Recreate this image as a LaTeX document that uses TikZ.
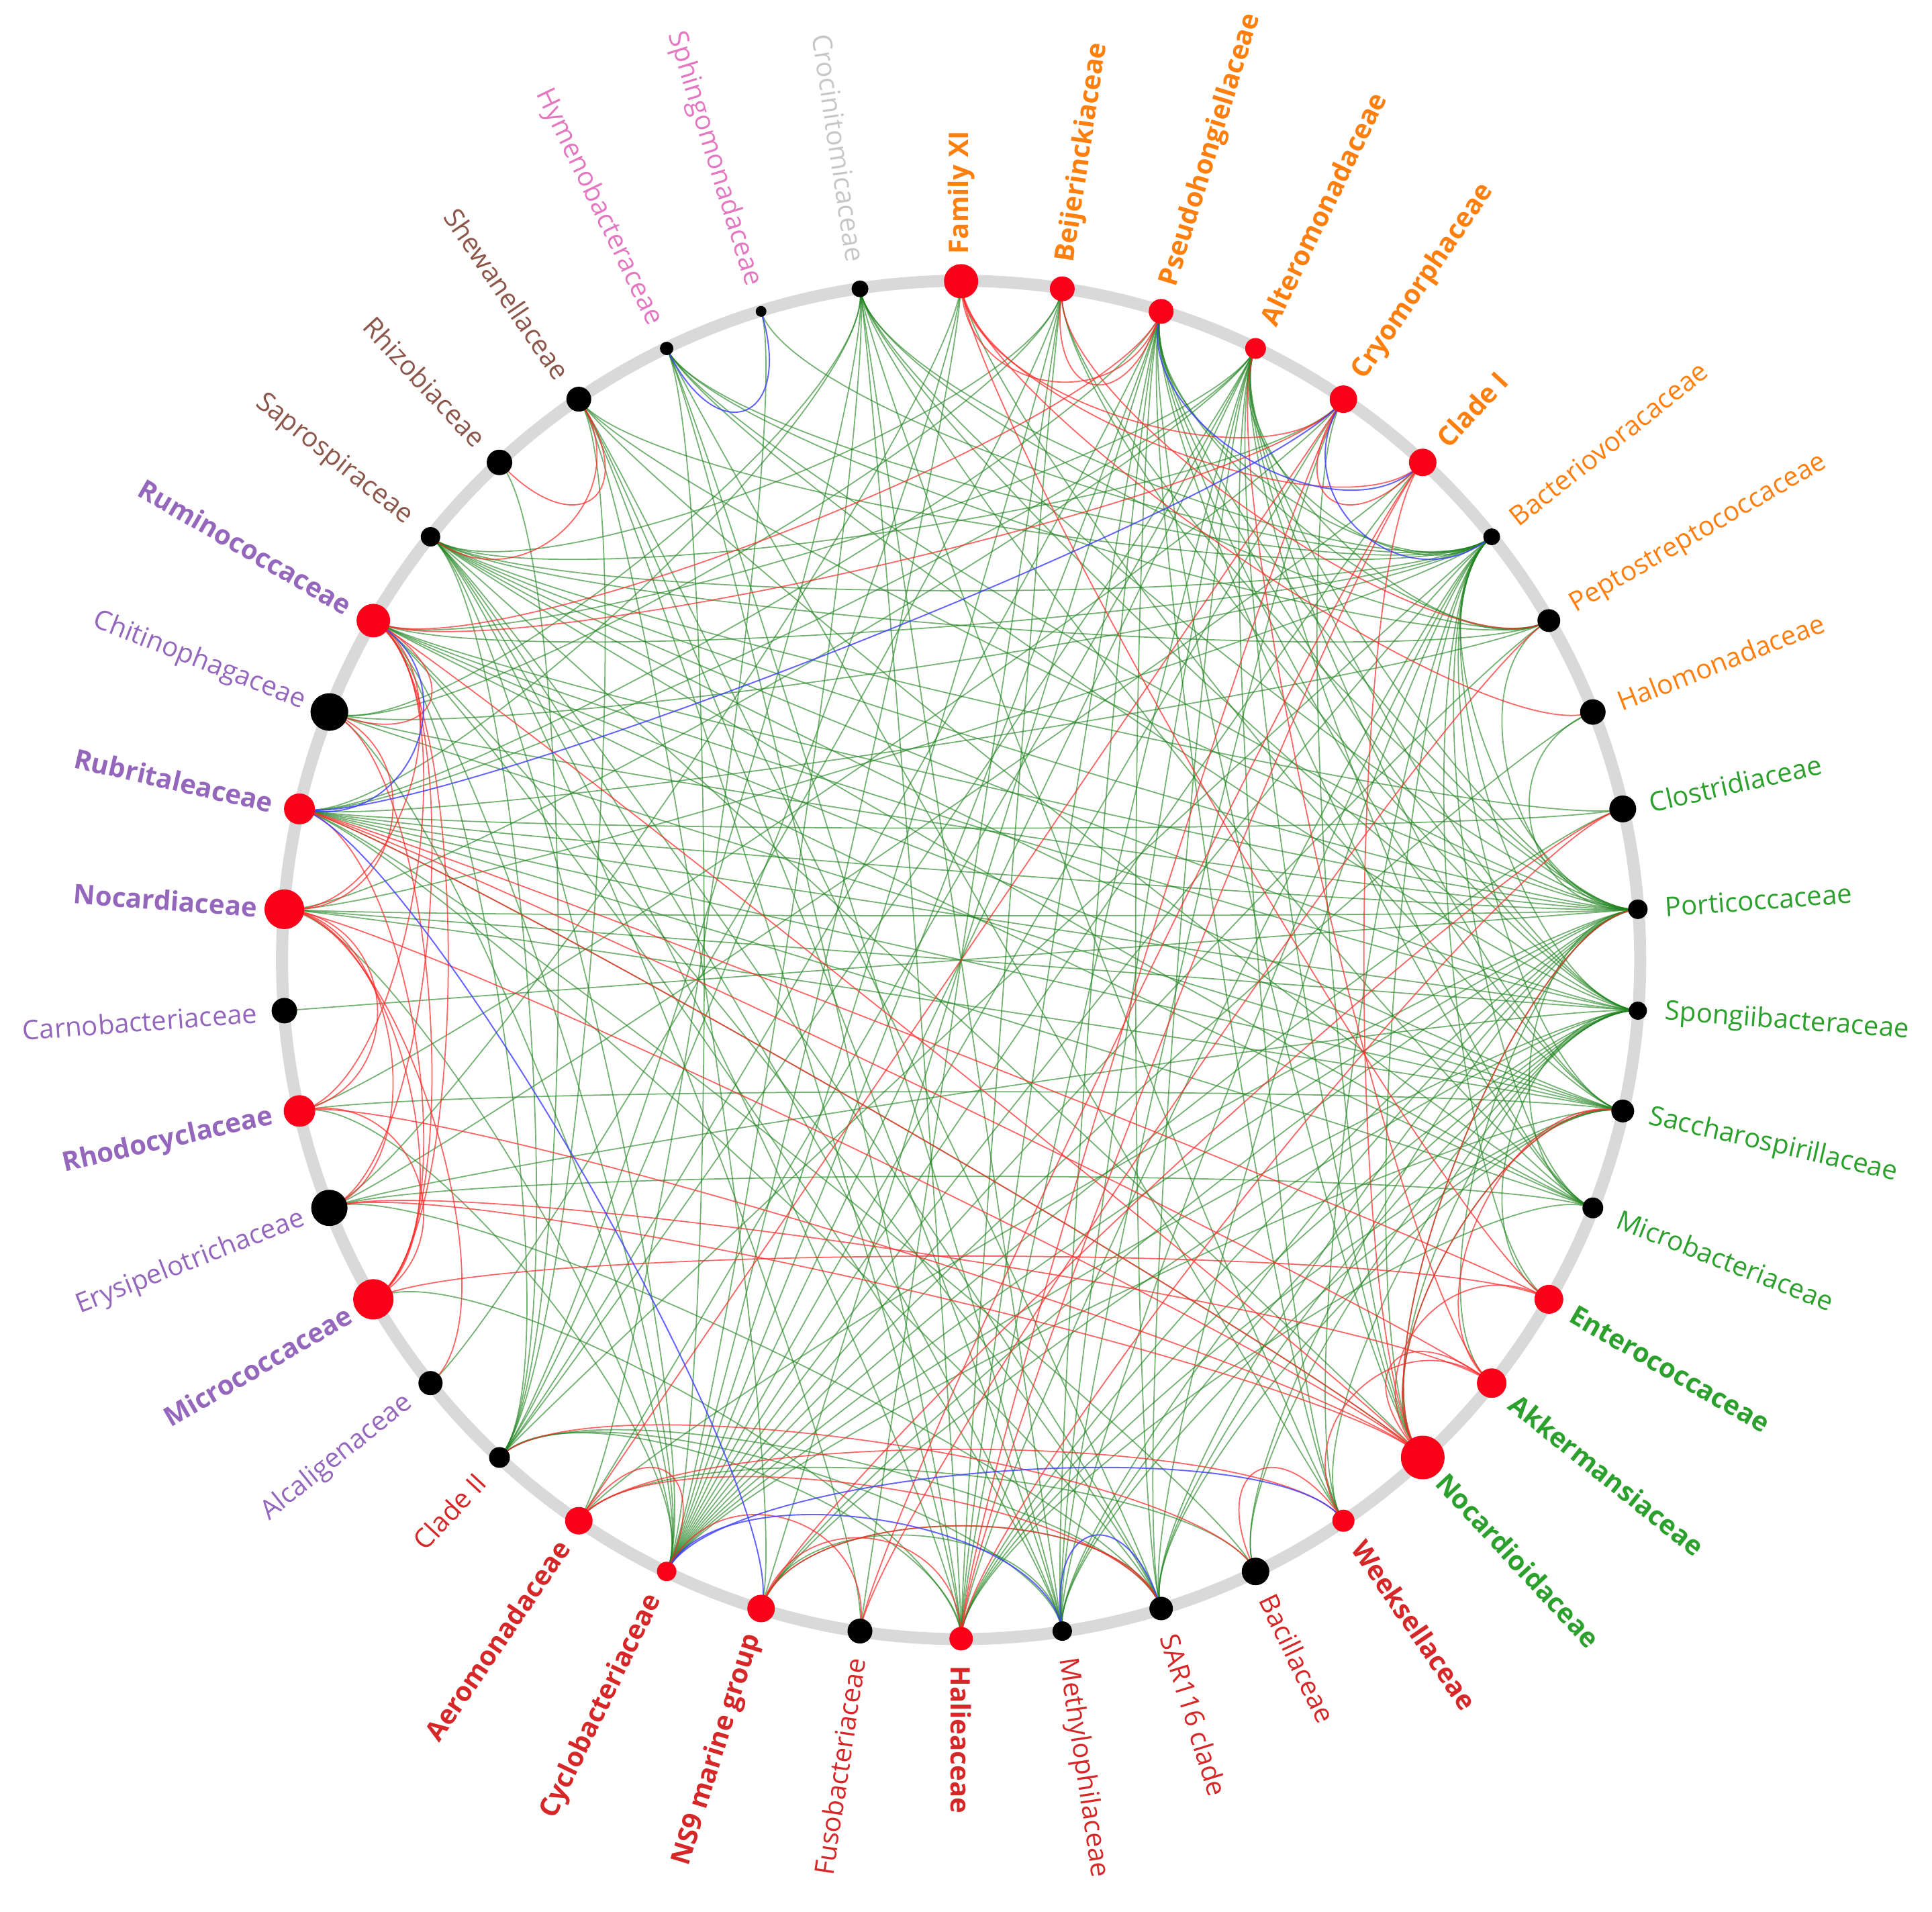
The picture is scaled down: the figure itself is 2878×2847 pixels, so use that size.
\documentclass[tikz,border=0pt]{standalone}
\usepackage{fontspec}
\setmainfont{Open Sans}
\usetikzlibrary{calc}
\pgfdeclarelayer{bg}
\pgfsetlayers{bg,main}
\definecolor{labOr}{HTML}{FF7F0E}
\definecolor{labGr}{HTML}{2CA02C}
\definecolor{labRd}{HTML}{D62728}
\definecolor{labPu}{HTML}{9467BD}
\definecolor{labBr}{HTML}{8C564B}
\definecolor{labPk}{HTML}{E377C2}
\definecolor{labGy}{HTML}{C7C7C7}
\definecolor{ringgray}{HTML}{D9D9D9}
\definecolor{nodered}{HTML}{FA0019}
\definecolor{edgegreen}{RGB}{30,130,30}
\definecolor{edgered}{RGB}{255,40,40}
\definecolor{edgeblue}{RGB}{60,60,255}
\tikzset{
  ringstyle/.style={draw=ringgray, line width=5.1pt},
  dot/.style={circle, inner sep=0pt, draw=none},
  lab/.style={inner sep=0pt, font=\fontsize{11.4}{13}\selectfont},
  ge/.style={draw=edgegreen, draw opacity=0.62, line width=0.5pt},
  re/.style={draw=edgered, draw opacity=0.72, line width=0.5pt},
  be/.style={draw=edgeblue, draw opacity=0.8, line width=0.55pt}
}
\newcommand\bt{0.17}
\begin{document}
\begin{tikzpicture}[x=0.01cm,y=0.01cm]
\useasboundingbox (0,0) rectangle (2878,2847);
\coordinate (C) at (1431.7,1417.1);
\begin{pgfonlayer}{bg}
\draw[ringstyle] (C) circle[radius=10.11cm];
\end{pgfonlayer}
\foreach \nid/\dia/\fil/\txt/\col/\bld in {
0/51/nodered/Family XI/labOr/1,
1/37/nodered/Beijerinckiaceae/labOr/1,
2/37/nodered/Pseudohongiellaceae/labOr/1,
3/31/nodered/Alteromonadaceae/labOr/1,
4/41/nodered/Cryomorphaceae/labOr/1,
5/41/nodered/Clade I/labOr/1,
6/25/black/Bacteriovoracaceae/labOr/0,
7/34/black/Peptostreptococcaceae/labOr/0,
8/38/black/Halomonadaceae/labOr/0,
9/40/black/Clostridiaceae/labGr/0,
10/29/black/Porticoccaceae/labGr/0,
11/27/black/Spongiibacteraceae/labGr/0,
12/34/black/Saccharospirillaceae/labGr/0,
13/31/black/Microbacteriaceae/labGr/0,
14/43/nodered/Enterococcaceae/labGr/1,
15/44/nodered/Akkermansiaceae/labGr/1,
16/65/nodered/Nocardioidaceae/labGr/1,
17/33/nodered/Weeksellaceae/labRd/1,
18/41/black/Bacillaceae/labRd/0,
19/35/black/SAR116 clade/labRd/0,
20/29/black/Methylophilaceae/labRd/0,
21/35/nodered/Halieaceae/labRd/1,
22/37/black/Fusobacteriaceae/labRd/0,
23/41/nodered/NS9 marine group/labRd/1,
24/29/nodered/Cyclobacteriaceae/labRd/1,
25/41/nodered/Aeromonadaceae/labRd/1,
26/31/black/Clade II/labRd/0,
27/36/black/Alcaligenaceae/labPu/0,
28/60/nodered/Micrococcaceae/labPu/1,
29/54/black/Erysipelotrichaceae/labPu/0,
30/47/nodered/Rhodocyclaceae/labPu/1,
31/38/black/Carnobacteriaceae/labPu/0,
32/59/nodered/Nocardiaceae/labPu/1,
33/46/nodered/Rubritaleaceae/labPu/1,
34/56/black/Chitinophagaceae/labPu/0,
35/50/nodered/Ruminococcaceae/labPu/1,
36/29/black/Saprospiraceae/labBr/0,
37/38/black/Rhizobiaceae/labBr/0,
38/37/black/Shewanellaceae/labBr/0,
39/20/black/Hymenobacteraceae/labPk/0,
40/16/black/Sphingomonadaceae/labPk/0,
41/25/black/Crocinitomicaceae/labGy/0}{
  \pgfmathsetmacro\ang{90-\nid*360/42}
  \node[dot, fill=\fil, minimum size=\dia*0.01cm] (n\nid) at ($(C)+(\ang:1011)$) {};
  \ifnum\nid<22
    \node[lab, text=\col, anchor=west, rotate=\ang] (l\nid) at ($(C)+(\ang:1051)$) {\ifnum\bld=1\bfseries\fi\txt};
  \else
    \pgfmathsetmacro\rot{\ang+180}
    \node[lab, text=\col, anchor=east, rotate=\rot] (l\nid) at ($(C)+(\ang:1051)$) {\ifnum\bld=1\bfseries\fi\txt};
  \fi
}
\begin{pgfonlayer}{bg}
\foreach \a/\b in {
36/6,36/7,36/9,36/10,36/11,36/12,36/13,36/16,36/19,36/20,36/21,36/22,36/24,36/26,
35/3,35/6,35/10,35/11,35/12,35/13,35/19,35/20,35/24,35/26,
34/6,34/10,34/12,34/41,34/24,
33/7,33/9,33/10,33/11,33/12,33/13,33/16,33/18,33/19,33/2,33/3,33/41,
32/10,32/11,32/12,32/3,32/6,32/24,
31/10,30/12,30/24,30/4,
29/13,29/5,29/19,29/11,
28/21,27/1,
26/37,26/41,26/0,26/2,26/3,26/6,26/19,26/20,26/21,26/38,
25/3,25/10,25/18,
24/41,24/0,24/1,24/2,24/3,24/4,24/5,24/6,24/7,24/8,24/9,24/10,24/11,24/12,24/39,
23/19,23/20,23/38,23/2,23/10,23/11,
22/1,
21/41,21/1,21/2,21/3,21/6,21/10,21/11,21/12,21/13,21/39,21/38,
20/41,20/39,20/38,20/2,20/3,20/4,20/6,20/10,20/11,20/12,
19/38,19/2,19/3,19/6,19/10,19/11,19/12,
18/10,18/11,
17/39,17/41,17/2,17/3,17/6,17/11,
16/2,16/3,16/6,16/10,16/11,16/12,16/4,
15/10,14/11,14/6,
13/41,13/38,13/2,13/3,13/6,13/10,
12/2,12/3,12/6,12/0,
11/41,11/39,11/2,11/3,11/6,11/1,
10/41,10/39,10/38,10/2,10/3,10/6,10/7,10/8,10/1,
7/41,7/39,7/3,7/2,
6/39,6/41,6/38,6/2,6/3,
40/25,40/6,1/36,1/34,0/29,4/36}
  \draw[ge] (n\a.center) .. controls ($(n\a.center)!\bt!(C)$) and ($(n\b.center)!\bt!(C)$) .. (n\b.center);
\foreach \a/\b in {
0/2,0/4,0/5,0/8,0/14,1/2,1/7,2/35,4/5,4/25,4/21,4/35,5/21,5/22,5/16,3/15,7/22,
9/21,9/23,10/16,12/16,12/15,15/16,14/16,14/33,15/17,16/33,16/32,16/35,16/29,16/30,
18/17,23/19,23/21,22/24,24/25,25/19,26/18,25/17,32/30,32/28,32/29,32/35,32/34,
30/28,30/35,28/35,28/34,29/35,27/32,34/35,33/28,33/15,28/14,29/15,36/38,37/38}
  \draw[re] (n\a.center) .. controls ($(n\a.center)!\bt!(C)$) and ($(n\b.center)!\bt!(C)$) .. (n\b.center);
\foreach \a/\b in {2/5,4/6,4/33,33/23,35/33,39/40,24/17,24/20,20/19}
  \draw[be] (n\a.center) .. controls ($(n\a.center)!\bt!(C)$) and ($(n\b.center)!\bt!(C)$) .. (n\b.center);
\end{pgfonlayer}
\end{tikzpicture}
\end{document}
